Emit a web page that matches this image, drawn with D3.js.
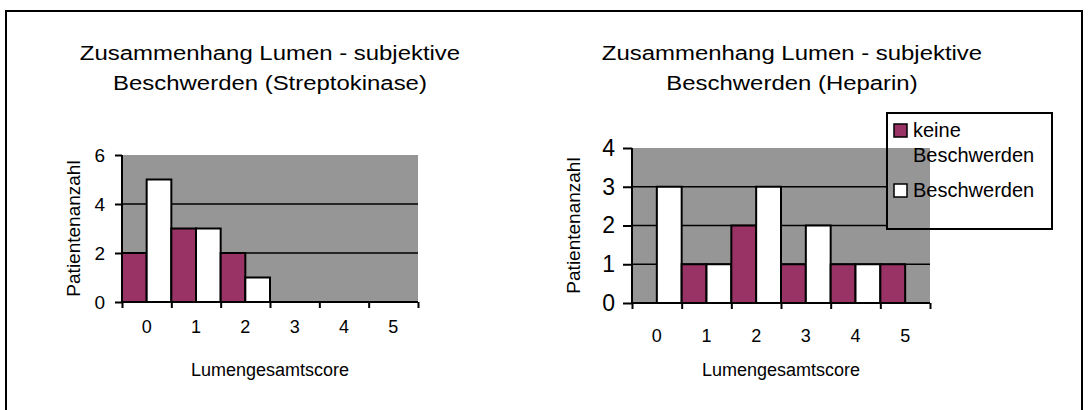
<!DOCTYPE html>
<html>
<head>
<meta charset="utf-8">
<script src="https://cdn.jsdelivr.net/npm/d3@7/dist/d3.min.js"></script>
<style>
  html, body { margin: 0; padding: 0; background: #fff; }
  svg { display: block; font-family: "Liberation Sans", Arial, sans-serif; }
</style>
</head>
<body>
<svg id="chart" width="1088" height="410"></svg>
<script>
// Lumengesamtscore categories and patient counts per group
const categories = ["0", "1", "2", "3", "4", "5"];
const seriesNames = ["keine Beschwerden", "Beschwerden"];

const streptoKeine = [2, 3, 2, 0, 0, 0];
const streptoBeschwerden = [5, 3, 1, 0, 0, 0];
const heparinKeine = [0, 1, 2, 1, 1, 1];
const heparinBeschwerden = [3, 1, 3, 2, 1, 0];

const streptoTicks = [0, 2, 4, 6];
const heparinTicks = [0, 1, 2, 3, 4];

const streptoTitle = ["Zusammenhang Lumen - subjektive", "Beschwerden (Streptokinase)"];
const heparinTitle = ["Zusammenhang Lumen - subjektive", "Beschwerden (Heparin)"];
const xTitle = "Lumengesamtscore";
const yTitle = "Patientenanzahl";

const colors = ["#993366", "#ffffff"];
const plotFill = "#969696";

const svg = d3.select("#chart");

// outer frame
svg.append("rect")
  .attr("x", 6).attr("y", 11).attr("width", 1076).attr("height", 430)
  .attr("fill", "none").attr("stroke", "#000").attr("stroke-width", 2);

function drawPanel(opts) {
  const { left, right, top, bottom, ticks, keine, beschwerden, title,
          titleX, yTickSize, yTickFont, xLabelOffset, yTitleX } = opts;
  const g = svg.append("g");

  const x = d3.scaleBand().domain(categories).range([left, right]).padding(0);
  const xs = d3.scaleBand().domain(seriesNames).range([0, x.bandwidth()]).padding(0);
  const xEdge = d3.scaleLinear().domain([0, categories.length]).range([left, right]);
  const y = d3.scaleLinear().domain([0, d3.max(ticks)]).range([bottom, top]);

  // plot area
  g.append("rect")
    .attr("x", left).attr("y", top)
    .attr("width", right - left).attr("height", bottom - top)
    .attr("fill", plotFill);

  // horizontal gridlines
  g.append("g").selectAll("line")
    .data(ticks.filter(t => t > 0 && t < d3.max(ticks)))
    .join("line")
    .attr("x1", left).attr("x2", right)
    .attr("y1", d => y(d)).attr("y2", d => y(d))
    .attr("stroke", "#000").attr("stroke-width", 1.5);

  // bars
  const rows = categories.map((c, i) => ({ c, vals: [keine[i], beschwerden[i]] }));
  g.append("g").selectAll("g")
    .data(rows)
    .join("g")
    .attr("transform", d => `translate(${x(d.c)},0)`)
    .selectAll("rect")
    .data(d => d.vals.map((v, j) => ({ v, j })).filter(e => e.v > 0))
    .join("rect")
    .attr("x", e => xs(seriesNames[e.j]))
    .attr("width", xs.bandwidth())
    .attr("y", e => y(e.v))
    .attr("height", e => y(0) - y(e.v))
    .attr("fill", e => colors[e.j])
    .attr("stroke", "#000").attr("stroke-width", 2);

  // y axis
  const yAxis = g.append("g")
    .attr("transform", `translate(${left},0)`)
    .call(d3.axisLeft(y).tickValues(ticks).tickSize(yTickSize).tickPadding(17 - yTickSize).tickFormat(d3.format("d")));
  yAxis.select(".domain").attr("stroke-width", 2).attr("d", `M0,${top}V${bottom}`);
  yAxis.selectAll(".tick line").attr("stroke-width", 2);
  yAxis.selectAll(".tick text").attr("font-size", yTickFont).attr("fill", "#000")
    .attr("font-family", "Liberation Sans, Arial, sans-serif");

  // x axis: tick marks on category boundaries
  const xAxis = g.append("g")
    .attr("transform", `translate(0,${bottom})`)
    .call(d3.axisBottom(xEdge).tickValues(d3.range(categories.length + 1)).tickSize(6).tickFormat(""));
  xAxis.select(".domain").attr("stroke-width", 2).attr("d", `M${left},0H${right}`);
  xAxis.selectAll(".tick line").attr("stroke-width", 2);

  // x axis: category labels centred in each band
  const xLab = g.append("g")
    .attr("transform", `translate(0,${bottom})`)
    .call(d3.axisBottom(x).tickSize(0).tickPadding(xLabelOffset));
  xLab.select(".domain").remove();
  xLab.selectAll(".tick text").attr("font-size", 18).attr("fill", "#000")
    .attr("font-family", "Liberation Sans, Arial, sans-serif");

  // chart title (two lines)
  title.forEach((line, i) => {
    g.append("text")
      .attr("transform", `translate(${titleX},${60 + i * 30}) scale(1.14,1)`)
      .attr("text-anchor", "middle")
      .attr("font-size", 21)
      .text(line);
  });

  // axis titles
  g.append("text")
    .attr("x", (left + right) / 2).attr("y", 376)
    .attr("text-anchor", "middle").attr("font-size", 18)
    .text(xTitle);
  g.append("text")
    .attr("transform", `translate(${yTitleX},${(top + bottom) / 2}) rotate(-90)`)
    .attr("text-anchor", "middle").attr("font-size", 19)
    .text(yTitle);

  return { x, y };
}

drawPanel({
  left: 122, right: 418, top: 155, bottom: 302,
  ticks: streptoTicks, keine: streptoKeine, beschwerden: streptoBeschwerden,
  title: streptoTitle, titleX: 270, yTickSize: 7, yTickFont: 19,
  xLabelOffset: 18, yTitleX: 80
});

drawPanel({
  left: 632, right: 930, top: 148, bottom: 303,
  ticks: heparinTicks, keine: heparinKeine, beschwerden: heparinBeschwerden,
  title: heparinTitle, titleX: 792, yTickSize: 9, yTickFont: 23,
  xLabelOffset: 26, yTitleX: 580
});

// legend (the part over the plot area shows the plot fill)
const legend = svg.append("g");
const lg = { x: 887, y: 113, w: 165, h: 116 };
legend.append("rect")
  .attr("x", lg.x).attr("y", lg.y).attr("width", lg.w).attr("height", lg.h)
  .attr("fill", "#fff");
legend.append("rect")
  .attr("x", lg.x).attr("y", 148).attr("width", 930 - lg.x).attr("height", lg.y + lg.h - 148)
  .attr("fill", plotFill);
legend.append("rect")
  .attr("x", lg.x).attr("y", lg.y).attr("width", lg.w).attr("height", lg.h)
  .attr("fill", "none").attr("stroke", "#000").attr("stroke-width", 2);

const legendRows = [
  { lines: ["keine", "Beschwerden"], color: colors[0], baseline: 137 },
  { lines: ["Beschwerden"], color: colors[1], baseline: 197 }
];
legendRows.forEach(r => {
  legend.append("rect")
    .attr("x", 894).attr("y", r.baseline - 13).attr("width", 13).attr("height", 13)
    .attr("fill", r.color).attr("stroke", "#000").attr("stroke-width", 1.5);
  r.lines.forEach((l, i) => {
    legend.append("text")
      .attr("x", 913).attr("y", r.baseline + i * 25)
      .attr("font-size", 20)
      .text(l);
  });
});
</script>
</body>
</html>
